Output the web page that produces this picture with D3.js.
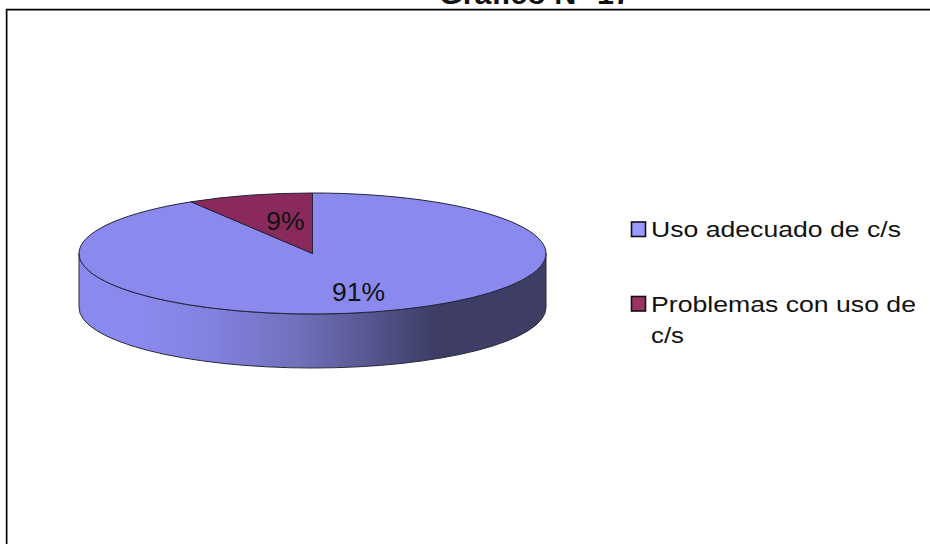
<!DOCTYPE html>
<html><head><meta charset="utf-8">
<script src="https://cdn.jsdelivr.net/npm/d3@7/dist/d3.min.js"></script>
<style>html,body{margin:0;padding:0;background:#fff}svg{display:block}text{font-family:"Liberation Sans",Arial,sans-serif;fill:#111}</style>
</head><body><svg id="c" width="930" height="544"></svg>
<script>
const chartTitle = "Gráfico N° 17";
const categories = ["Uso adecuado de c/s", "Problemas con uso de c/s"];
const values = [91.3, 8.7];
const labels = ["91%", "9%"];
const topColors = ["#8a8aee", "#8a2a5c"];
const swatchColors = ["#9999ff", "#993366"];

const svg = d3.select("#c");
const cx = 312.5, cy = 253.5, rx = 233.5, ry = 60.5, depth = 54;

// frame
svg.append("path").attr("d","M7.5 544V10.5H930").attr("fill","none").attr("stroke","#aaa").attr("stroke-width",1);
svg.append("path").attr("d","M6.5 544V9.5H930").attr("fill","none").attr("stroke","#000").attr("stroke-width",1.4);
svg.append("text").attr("x",535).attr("y",4).attr("text-anchor","middle")
  .attr("font-size",30).attr("font-weight","bold").attr("textLength",192).attr("lengthAdjust","spacingAndGlyphs").text(chartTitle);

// side gradient
const defs = svg.append("defs");
const g = defs.append("linearGradient").attr("id","side").attr("gradientUnits","userSpaceOnUse")
  .attr("x1",cx-rx).attr("x2",cx+rx).attr("y1",0).attr("y2",0);
[[0,"#8a8aee"],[0.14,"#8a8aee"],[0.3,"#8080dd"],[0.47,"#7070bb"],[0.6,"#5a5a96"],[0.76,"#3d3d66"],[1,"#3d3d66"]]
  .forEach(([o,c])=>g.append("stop").attr("offset",o).attr("stop-color",c));

// side wall
svg.append("path")
  .attr("d",`M${cx-rx} ${cy}A${rx} ${ry} 0 0 0 ${cx+rx} ${cy}V${cy+depth}A${rx} ${ry} 0 0 1 ${cx-rx} ${cy+depth}Z`)
  .attr("fill","url(#side)").attr("stroke","#2a2a3a").attr("stroke-width",1);

// top face
const pie = d3.pie().sort(null).value(d=>d);
const arc = d3.arc().innerRadius(0).outerRadius(rx);
const face = svg.append("g").attr("transform",`translate(${cx},${cy}) scale(1,${ry/rx})`);
face.selectAll("path").data(pie(values)).join("path")
  .attr("d",arc).attr("fill",(d,i)=>topColors[i])
  .attr("stroke","#23233a").attr("stroke-width",1).attr("vector-effect","non-scaling-stroke");

// data labels
const lx = [358.5, 285.5], ly = [300.5, 229.5];
svg.selectAll("text.lab").data(labels).join("text").attr("class","lab")
  .attr("x",(d,i)=>lx[i]).attr("y",(d,i)=>ly[i]).attr("text-anchor","middle")
  .attr("font-size",26.5).text(d=>d);

// legend
const lines = [["Uso adecuado de c/s"],["Problemas con uso de","c/s"]];
const widths = [[250],[265,33]];
const ys = [237,311.5];
categories.forEach((c,i)=>{
  svg.append("rect").attr("x",631.5).attr("y",ys[i]-15).attr("width",14).attr("height",14.5)
    .attr("fill",swatchColors[i]).attr("stroke","#111").attr("stroke-width",1.6);
  lines[i].forEach((t,j)=>{
    svg.append("text").attr("x",651).attr("y",ys[i]+j*31.5).attr("font-size",22)
      .attr("textLength",widths[i][j]).attr("lengthAdjust","spacingAndGlyphs").text(t);
  });
});
</script></body></html>
